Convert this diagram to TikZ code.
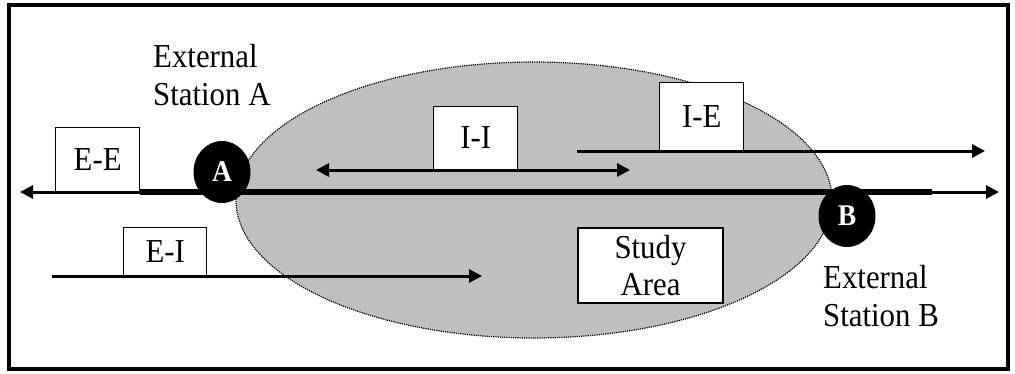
\documentclass[tikz,border=0pt]{standalone}
\usepackage{fontspec}
\setmainfont[FakeStretch=0.92]{Liberation Serif}
\usetikzlibrary{arrows.meta,shapes.geometric}
\begin{document}
\begin{tikzpicture}[x=1pt,y=-1pt,
  txt/.style={font=\fontsize{33.5}{38}\selectfont},
  boxnode/.style={draw, line width=1.4pt, fill=white, inner sep=0pt, txt},
  stn/.style={ellipse, fill=black, minimum width=57pt, minimum height=62pt, inner sep=0pt,
    text=white, font=\fontsize{30}{34}\selectfont\bfseries},
  thinarrow/.style={line width=3pt, -{Triangle[length=13pt,width=13pt]}},
  thickline/.style={line width=6.5pt},
  lbl/.style={txt, align=left, inner sep=0pt, anchor=west}]
\useasboundingbox (0,0) rectangle (1015,373);
% frame
\draw[line width=4pt] (9,5) rectangle (1008,369);
% study area
\draw[fill=black!25, densely dotted, line width=1.2pt] (534,200) ellipse [x radius=298, y radius=138];
% coordinates
\coordinate (mL) at (140,192);
\coordinate (mR) at (932,192);
\coordinate (eL) at (20,192);
\coordinate (eR) at (999,192);
% main line
\draw[thickline] (mL) -- (mR);
\draw[thinarrow] (mL) -- (eL);
\draw[thinarrow] (mR) -- (eR);
% stations
\node[stn] (A) at (222,172) {A};
\node[stn] (B) at (847,216) {B};
% E-E
\node[boxnode, minimum width=84pt, minimum height=64pt, anchor=south west] (ee) at (55,192) {E-E};
% E-I
\coordinate (eis) at (52,276);
\coordinate (eie) at (482,276);
\draw[thinarrow] (eis) -- (eie);
\node[boxnode, minimum width=83pt, minimum height=48pt, anchor=south west] (ei) at (123,276) {E-I};
% I-I
\coordinate (iis) at (316,170);
\coordinate (iie) at (630,170);
\draw[line width=3pt, {Triangle[length=13pt,width=13pt]}-{Triangle[length=13pt,width=13pt]}] (iis) -- (iie);
\node[boxnode, minimum width=84pt, minimum height=63pt, anchor=south west] (ii) at (433,170) {I-I};
% I-E
\coordinate (ies) at (577,151);
\coordinate (iee) at (985,151);
\draw[thinarrow] (ies) -- (iee);
\node[boxnode, minimum width=84pt, minimum height=68pt, anchor=south west] (ie) at (659,151) {I-E};
% study area label
\node[boxnode, minimum width=145pt, minimum height=75pt, align=center] (sa) at (650.5,265.5) {Study\\[-1pt]Area};
% external station labels
\node[lbl] (la) at (153,75.5) {External\\Station A};
\node[lbl] (lb) at (823,296.5) {External\\Station B};
\end{tikzpicture}
\end{document}
